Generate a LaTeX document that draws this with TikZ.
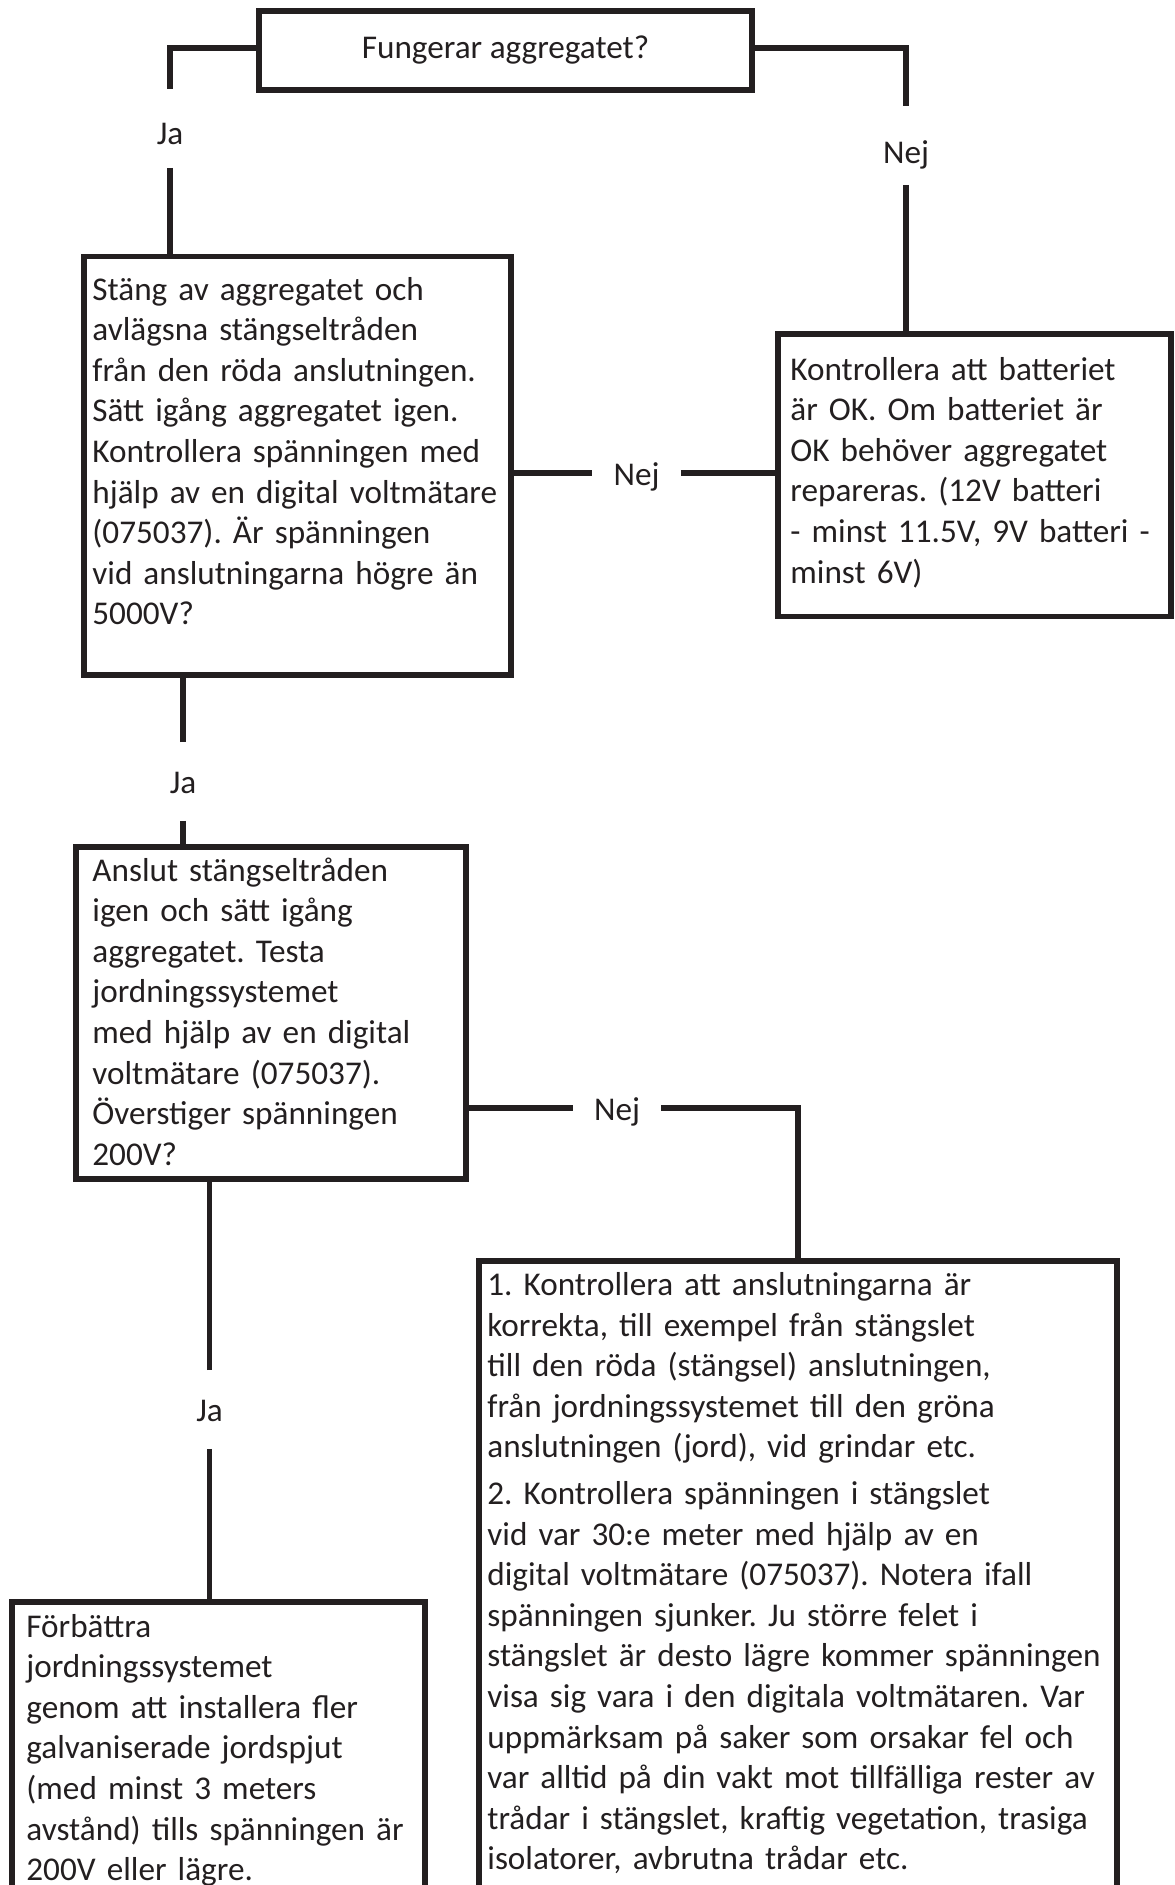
\documentclass[tikz,border=0pt]{standalone}
\usepackage{fontspec}
\setmainfont{Carlito}
\usetikzlibrary{positioning}
\definecolor{ink}{RGB}{35,31,32}
\frenchspacing

\begin{document}
\begin{tikzpicture}[
  x=0.5pt,y=-0.5pt,
  color=ink,
  font={\fontsize{16.6pt}{20.3pt}\selectfont},
  box/.style={draw,line width=2.75pt,outer sep=0pt,inner sep=0pt,anchor=north west},
  txt/.style={anchor=base west,inner sep=0pt,align=left,text width=400pt},
  lbl/.style={inner sep=0pt,minimum width=44pt,minimum height=39pt,text height=12pt,text depth=0pt},
  ln/.style={draw,line width=2.75pt}
]
\useasboundingbox (0,0) rectangle (1174,1885);
\clip (0,0) rectangle (1174,1885);

\node[box,minimum width=246.5pt,minimum height=39.5pt] (top) at (259,11) {Fungerar aggregatet?};
\node[box,minimum width=213.5pt,minimum height=209.25pt] (stang) at (84,256.5) {};
\node[box,minimum width=196.5pt,minimum height=141.25pt] (batt) at (778,334) {};
\node[box,minimum width=195pt,minimum height=166pt] (anslut) at (76,847) {};
\node[box,minimum width=206.5pt,minimum height=149pt] (forb) at (12,1602) {};
\node[box,minimum width=319pt,minimum height=319.5pt] (kontr) at (479,1261) {};

\node[txt] (stangtxt) at (92,300) {Stäng av aggregatet och\\avlägsna stängseltråden\\från den röda anslutningen.\\Sätt igång aggregatet igen.\\Kontrollera spänningen med\\hjälp av en digital voltmätare\\(075037). Är spänningen\\vid anslutningarna högre än\\5000V?};
\node[txt] (batttxt) at (790,380) {Kontrollera att batteriet\\är OK. Om batteriet är\\OK behöver aggregatet\\repareras. (12V batteri\\- minst 11.5V, 9V batteri -\\minst 6V)};
\node[txt] (ansluttxt) at (92,881) {Anslut stängseltråden\\igen och sätt igång\\aggregatet. Testa\\jordningssystemet\\med hjälp av en digital\\voltmätare (075037).\\Överstiger spänningen\\200V?};
\node[txt] (forbtxt) at (26,1637) {Förbättra\\jordningssystemet\\genom att installera fler\\galvaniserade jordspjut\\(med minst 3 meters\\avstånd) tills spänningen är\\200V eller lägre.};
\node[txt] (kontrtxt) at (487,1295.5) {1. Kontrollera att anslutningarna är\\korrekta, till exempel från stängslet\\till den röda (stängsel) anslutningen,\\från jordningssystemet till den gröna\\anslutningen (jord), vid grindar etc.\\[3pt]2. Kontrollera spänningen i stängslet\\vid var 30:e meter med hjälp av en\\digital voltmätare (075037). Notera ifall\\spänningen sjunker. Ju större felet i\\stängslet är desto lägre kommer spänningen\\visa sig vara i den digitala voltmätaren. Var\\uppmärksam på saker som orsakar fel och\\var alltid på din vakt mot tillfälliga rester av\\trådar i stängslet, kraftig vegetation, trasiga\\isolatorer, avbrutna trådar etc.};

\node[lbl,text height=16pt] (ja1) at (170,128.5) {Ja};
\node[lbl,text height=18pt] (nej1) at (906,145.5) {Nej};
\node[lbl] (nej2) at (636.5,473) {Nej};
\node[lbl] (ja2) at (183,781.5) {Ja};
\node[lbl] (nej3) at (617,1108) {Nej};
\node[lbl] (ja3) at (209.5,1409.5) {Ja};

\draw[ln] ([yshift=1.25pt]top.west) -| (ja1.north);
\draw[ln] (ja1.south) -- (ja1.south |- stang.north);
\draw[ln] ([yshift=1.25pt]top.east) -| (nej1.north);
\draw[ln] (nej1.south) -- (nej1.south |- batt.north);
\draw[ln] (stang.east |- nej2) -- (nej2.west);
\draw[ln] (nej2.east) -- (batt.west |- nej2);
\draw[ln] (ja2.north) -- (ja2.north |- stang.south);
\draw[ln] (ja2.south) -- (ja2.south |- anslut.north);
\draw[ln] (anslut.east |- nej3) -- (nej3.west);
\draw[ln] (nej3.east) -| (kontr.north);
\draw[ln] (ja3.north) -- (ja3.north |- anslut.south);
\draw[ln] (ja3.south) -- (ja3.south |- forb.north);
\end{tikzpicture}
\end{document}
